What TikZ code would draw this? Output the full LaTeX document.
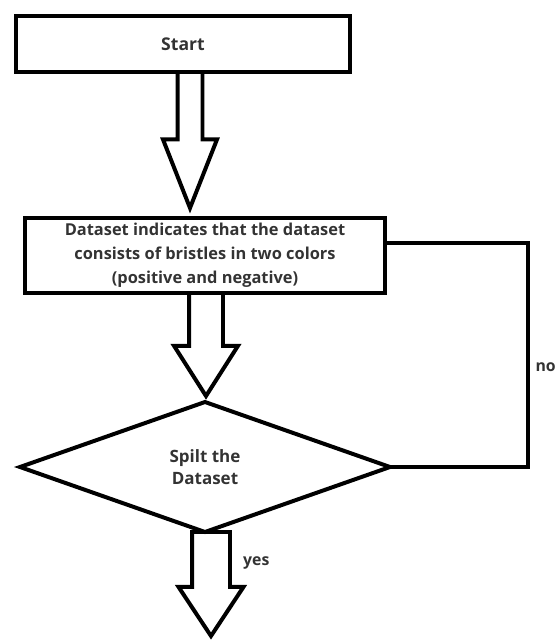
\documentclass[tikz,border=0pt]{standalone}
\usepackage{fontspec}
\setmainfont{Open Sans}
\usetikzlibrary{shapes.geometric,shapes.arrows}

\newcommand{\pxl}{0.03cm}

\tikzset{
	box/.style={draw, line width=3.4pt, rectangle, inner sep=0pt, outer sep=0pt, align=center, text=black!80, font=\bfseries\fontsize{14}{20.6}\selectfont},
	decision/.style={draw, line width=3.4pt, diamond, inner sep=0pt, outer sep=0pt, align=center, text=black!80, font=\bfseries\fontsize{14.5}{18.9}\selectfont},
	hollow/.style={draw, line width=3.4pt, single arrow, rotate=-90, anchor=tail, inner xsep=0pt, outer sep=0pt},
	loopline/.style={line width=3pt},
	lbl/.style={text=black!80, font=\bfseries\fontsize{13.5}{15}\selectfont, inner sep=0pt, anchor=west},
}

\begin{document}
\begin{tikzpicture}[x=\pxl,y=-\pxl]

	\useasboundingbox (0,0) rectangle (559,640);

	\node[box, minimum width=334*\pxl, minimum height=56*\pxl, font=\bfseries\fontsize{15}{18}\selectfont] (start) at (183,44) {Start};
	\node[box, minimum width=360*\pxl, minimum height=75*\pxl] (data) at (205,255.5)
		{Dataset indicates that the dataset\\consists of bristles in two colors\\(positive and negative)};
	\node[decision, minimum width=370*\pxl, minimum height=130*\pxl] (split) at (205,467) {Spilt the\\Dataset};

	% block arrows
	\node[hollow, minimum height=136*\pxl, inner ysep=10.5*\pxl, single arrow head extend=14.5*\pxl, single arrow tip angle=43] (arrA) at (190,72) {};
	\node[hollow, minimum height=103*\pxl, inner ysep=15*\pxl, single arrow head extend=15*\pxl, single arrow tip angle=65] (arrB) at (206,293) {};
	\node[hollow, minimum height=104*\pxl, inner ysep=17*\pxl, single arrow head extend=13.5*\pxl, single arrow tip angle=67] (arrC) at (211,532) {};

	% back loop
	\coordinate (corner) at (528,243);
	\draw[loopline] (corner -| data.east) -- (corner) |- (split.east);

	\node[lbl, anchor=east] (nolbl) at (556,367) {no};
	\node[lbl] (yeslbl) at (243,563) {yes};

\end{tikzpicture}
\end{document}
